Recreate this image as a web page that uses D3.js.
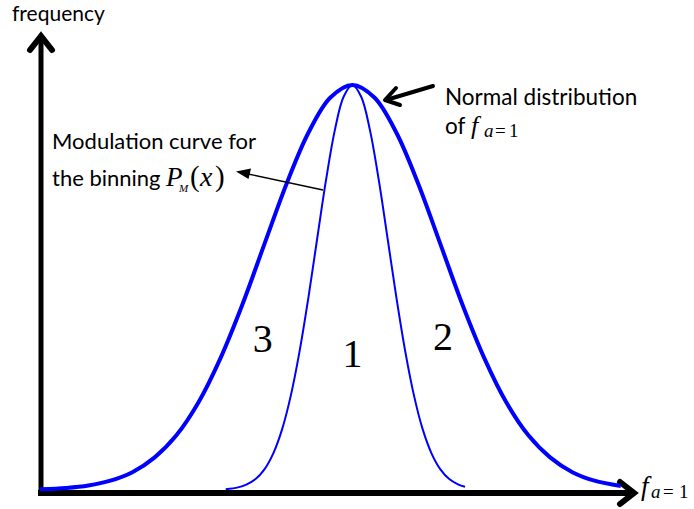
<!DOCTYPE html>
<html><head><meta charset="utf-8">
<script src="https://cdn.jsdelivr.net/npm/d3@7"></script>
<style>body{margin:0;background:#fff}svg{display:block}</style>
</head><body>
<script>
// Broad normal distribution of f_{a=1} (relative units)
const thickX = [-3.55, -3.25, -3.0, -2.75, -2.5, -2.25, -2.0, -1.75, -1.5, -1.25, -1.0, -0.75, -0.5, -0.25, 0, 0.25, 0.5, 0.75, 1.0, 1.25, 1.5, 1.75, 2.0, 2.25, 2.5, 2.75, 3.05];
const thickY = [0.002, 0.005, 0.011, 0.023, 0.044, 0.080, 0.135, 0.216, 0.325, 0.458, 0.607, 0.755, 0.882, 0.969, 1.0, 0.969, 0.882, 0.755, 0.607, 0.458, 0.325, 0.216, 0.135, 0.080, 0.044, 0.023, 0.010];
// Narrow modulation curve P_M(x)
const thinX = [-1.44, -1.3, -1.2, -1.1, -1.0, -0.9, -0.8, -0.7, -0.6, -0.5, -0.4, -0.3, -0.2, -0.1, 0, 0.1, 0.2, 0.3, 0.4, 0.5, 0.6, 0.7, 0.8, 0.9, 1.0, 1.1, 1.2, 1.28];
const thinY = [0.002, 0.0065, 0.014, 0.027, 0.051, 0.090, 0.149, 0.233, 0.343, 0.475, 0.621, 0.765, 0.888, 0.971, 1.0, 0.971, 0.888, 0.765, 0.621, 0.475, 0.343, 0.233, 0.149, 0.090, 0.051, 0.027, 0.014, 0.008];
// Region labels
const regionLabels = ["3", "1", "2"];
const regionX = [-1.02, 0.0, 1.03];
const regionY = [0.34, 0.304, 0.346];

const W = 694, H = 509;
const svg = d3.select("body").append("svg").attr("width", W).attr("height", H);

const x = d3.scaleLinear().domain([-3.55, 3.25]).range([40, 638.4]);
const y = d3.scaleLinear().domain([0, 1]).range([490, 85]);

const line = d3.line().x(d => x(d[0])).y(d => y(d[1])).curve(d3.curveCatmullRom.alpha(0.5));

// axes
const ax = svg.append("g").attr("stroke", "#000").attr("fill", "none");
ax.append("line").attr("x1", 41).attr("y1", 496).attr("x2", 41).attr("y2", 37).attr("stroke-width", 5);
ax.append("polyline").attr("points", "30,50 41,36 52,50").attr("stroke-width", 6).attr("stroke-linejoin", "miter").attr("stroke-linecap", "round");
ax.append("line").attr("x1", 38).attr("y1", 493).attr("x2", 633).attr("y2", 493).attr("stroke-width", 6);
ax.append("polyline").attr("points", "620,482 634,493 620,504").attr("stroke-width", 6).attr("stroke-linejoin", "miter").attr("stroke-linecap", "round");

// curves
svg.append("path").datum(d3.zip(thickX, thickY)).attr("d", line)
  .attr("fill", "none").attr("stroke", "#0000ff").attr("stroke-width", 4);
svg.append("path").datum(d3.zip(thinX, thinY)).attr("d", line)
  .attr("fill", "none").attr("stroke", "#0000ff").attr("stroke-width", 2);

// region numbers
svg.selectAll("text.reg").data(regionLabels).enter().append("text")
  .attr("class", "reg")
  .attr("x", (d, i) => x(regionX[i])).attr("y", (d, i) => y(regionY[i]))
  .attr("text-anchor", "middle")
  .attr("font-family", "Liberation Serif").attr("font-size", 40)
  .text(d => d);

const sans = "Lato";
const serif = "Liberation Serif";

// frequency
svg.append("text").attr("x", 12).attr("y", 21).attr("font-family", sans).attr("font-size", 21).text("frequency");

// Normal distribution label
svg.append("text").attr("x", 445).attr("y", 105).attr("font-family", sans).attr("font-size", 22.5).text("Normal distribution");
const t2 = svg.append("text").attr("x", 445).attr("y", 134).attr("font-family", sans).attr("font-size", 22.5);
t2.append("tspan").text("of");
t2.append("tspan").attr("x", 471).attr("font-family", serif).attr("font-style", "italic").attr("font-size", 26).text("f");
t2.append("tspan").attr("x", 484).attr("dy", 3).attr("font-family", serif).attr("font-style", "italic").attr("font-size", 19).text("a");
t2.append("tspan").attr("x", 495).attr("font-family", serif).attr("font-size", 19).text("=");
t2.append("tspan").attr("x", 509).attr("font-family", serif).attr("font-size", 19).text("1");

// arrow to normal distribution
const ar = svg.append("g").attr("stroke", "#000").attr("fill", "none").attr("stroke-width", 4).attr("stroke-linecap", "round");
ar.append("line").attr("x1", 433).attr("y1", 86).attr("x2", 386).attr("y2", 100);
ar.append("polyline").attr("points", "396,88 385,100 400,105").attr("stroke-linejoin", "round");

// Modulation curve label
svg.append("text").attr("x", 52).attr("y", 149).attr("font-family", sans).attr("font-size", 22).text("Modulation curve for");
const t3 = svg.append("text").attr("x", 52).attr("y", 186).attr("font-family", sans).attr("font-size", 22);
t3.append("tspan").text("the binning");
t3.append("tspan").attr("x", 166).attr("font-family", serif).attr("font-style", "italic").attr("font-size", 27).text("P");
t3.append("tspan").attr("x", 179).attr("dy", 6).attr("font-family", serif).attr("font-style", "italic").attr("font-size", 11).text("M");
t3.append("tspan").attr("x", 190).attr("dy", -6).attr("font-family", serif).attr("font-size", 29).text("(");
t3.append("tspan").attr("x", 200).attr("font-family", serif).attr("font-style", "italic").attr("font-size", 28).text("x");
t3.append("tspan").attr("x", 215).attr("font-family", serif).attr("font-size", 29).text(")");

// thin arrow from modulation curve to label
svg.append("line").attr("x1", 323).attr("y1", 190).attr("x2", 248).attr("y2", 174)
  .attr("stroke", "#000").attr("stroke-width", 1.3);
svg.append("path").attr("d", "M236,171.5 L251,168.5 L248.5,179 Z").attr("fill", "#000");

// x axis label
const t4 = svg.append("text").attr("x", 641).attr("y", 495).attr("font-family", serif).attr("font-size", 27);
t4.append("tspan").attr("font-style", "italic").text("f");
t4.append("tspan").attr("x", 651).attr("dy", 3).attr("font-size", 19).attr("font-style", "italic").text("a");
t4.append("tspan").attr("x", 663).attr("font-size", 19).text("=");
t4.append("tspan").attr("x", 679).attr("font-size", 19).text("1");
</script>
</body></html>
